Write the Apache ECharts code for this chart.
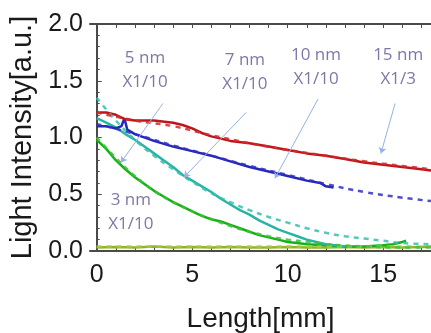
<!DOCTYPE html>
<html>
<head>
<meta charset="utf-8">
<script src="https://cdn.jsdelivr.net/npm/echarts@6/dist/echarts.min.js"></script>
<style>
  html, body { margin: 0; padding: 0; background: #fff; }
  #chart { width: 431px; height: 333px; }
</style>
</head>
<body>
<div id="chart"></div>
<script>
// measured profiles [length mm, intensity a.u.]
const red15nm = [[0,1.22],[0.5,1.22],[1,1.2],[1.5,1.16],[2,1.15],[3,1.15],[4,1.13],[4.5,1.11],[5,1.08],[5.5,1.04],[6,1.01],[7,0.97],[8,0.95],[9,0.92],[10,0.89],[11,0.86],[12,0.84],[13,0.81],[14,0.78],[15,0.76],[16,0.74],[17,0.72],[17.5,0.71]];
const red15nmFit = [[0,1.22],[2,1.15],[4,1.1],[6,1.02],[8,0.95],[10,0.89],[12,0.84],[14,0.79],[16,0.75],[17.5,0.72]];

const blue10nm = [[0,1.1],[0.5,1.1],[1,1.08],[1.3,1.1],[1.45,1.17],[1.6,1.07],[2,1.03],[3,0.97],[4,0.92],[5,0.88],[6,0.84],[7,0.79],[8,0.74],[9,0.7],[10,0.66],[11,0.62],[11.7,0.6],[12,0.57],[12.4,0.56]];
const blue10nmFit = [[0,1.12],[2,1.03],[4,0.93],[6,0.84],[8,0.75],[10,0.67],[12,0.59],[14,0.52],[16,0.47],[17.5,0.44]];

const teal7nm = [[0,1.17],[0.5,1.13],[1,1.09],[1.5,1.03],[2,0.98],[2.5,0.92],[3,0.86],[3.5,0.8],[4,0.74],[4.5,0.67],[5,0.62],[5.5,0.57],[6,0.52],[6.5,0.46],[7,0.41],[7.5,0.36],[8,0.32],[8.5,0.27],[9,0.23],[9.5,0.19],[10,0.16],[10.5,0.13],[11,0.1],[11.5,0.08],[12,0.06],[12.5,0.05],[13,0.04]];
const teal7nmFit = [[0,1.35],[1,1.15],[2,0.98],[3,0.84],[4,0.72],[5,0.61],[6,0.51],[7,0.43],[8,0.36],[9,0.3],[10,0.25],[11,0.2],[12,0.16],[13,0.13],[14,0.11],[15,0.09],[16,0.07],[17.5,0.06]];

const green5nm = [[0,0.98],[0.5,0.9],[1,0.8],[1.5,0.72],[2,0.65],[2.5,0.59],[3,0.53],[3.5,0.48],[4,0.43],[4.5,0.39],[5,0.35],[5.5,0.31],[6,0.28],[6.5,0.26],[7,0.23],[7.5,0.2],[8,0.17],[8.5,0.14],[9,0.12],[9.5,0.1],[10,0.08],[10.5,0.07],[11,0.06],[12,0.05],[13,0.04],[14,0.04],[15,0.05],[15.5,0.06],[16,0.08],[16.2,0.09]];
const green5nmFit = [[0,1.0],[1,0.82],[2,0.66],[3,0.53],[4,0.43],[5,0.35],[6,0.28],[7,0.22],[8,0.17],[9,0.13],[10,0.1],[11,0.08],[12,0.06],[14,0.04],[16,0.03],[17.5,0.03]];

const olive3nm = [[0,0.03],[1,0.035],[2,0.03],[3,0.04],[4,0.03],[5,0.035],[6,0.03],[7,0.035],[8,0.03],[9,0.03],[10,0.035],[11,0.03],[12,0.03],[13,0.035],[14,0.03],[15,0.035],[16,0.03],[17,0.035],[17.5,0.04]];
const olive3nmFit = [[0,0.04],[17.5,0.04]];

// annotations
const noteText = ["5 nm\nX1/10", "7 nm\nX1/10", "10 nm\nX1/10", "15 nm\nX1/3", "3 nm\nX1/10"];
const notePos = [[2.53,1.59],[7.76,1.58],[11.48,1.62],[15.78,1.62],[1.79,0.34]];
const arrowFrom = [[3.47,1.3],[7.82,1.22],[11.59,1.34],[15.62,1.3]];
const arrowTo = [[1.27,0.78],[4.57,0.65],[9.33,0.64],[14.88,0.86]];

const xLabels = [0, 5, 10, 15];
const xTicks = [0,1,2,3,4,5,6,7,8,9,10,11,12,13,14,15,16,17];

const FRAME = "#4a4a4a";
const FONT = "Liberation Sans";

function measured(data, color, z) {
  return {
    type: "line",
    data: data,
    showSymbol: false,
    z: z,
    lineStyle: { color: color, width: 2.5 },
    itemStyle: { color: color },
  };
}

function fitted(data, color, z) {
  return {
    type: "line",
    data: data,
    smooth: 0.4,
    showSymbol: false,
    z: z,
    lineStyle: { color: color, width: 2.5, type: [5, 5], opacity: 0.85 },
    itemStyle: { color: color },
  };
}

function xAxisBase(position, extra) {
  return Object.assign({
    type: "value",
    position: position,
    min: -0.35,
    max: 17.5,
    splitLine: { show: false },
    axisLine: { show: true, onZero: false, lineStyle: { color: FRAME, width: 2 } },
    axisTick: { show: true, inside: true, length: 4, customValues: xTicks, lineStyle: { color: FRAME } },
    axisLabel: { show: false },
  }, extra);
}

const chart = echarts.init(document.getElementById("chart"), null, { renderer: "canvas" });

chart.setOption({
  animation: false,
  backgroundColor: "#fff",
  grid: { left: 90, right: 0, top: 24, bottom: 82, containLabel: false, outerBoundsMode: "none" },
  xAxis: [
    xAxisBase("bottom", {
      name: "Length[mm]",
      nameLocation: "middle",
      nameGap: 54,
      nameTextStyle: { fontFamily: FONT, fontSize: 28, color: "#1a1a1a" },
      axisLabel: {
        show: true,
        customValues: xLabels,
        margin: 12,
        fontFamily: FONT,
        fontSize: 25,
        color: "#1a1a1a",
      },
    }),
    xAxisBase("top", {}),
  ],
  yAxis: {
    type: "value",
    min: 0,
    max: 2,
    interval: 0.5,
    name: "Light Intensity[a.u.]",
    nameLocation: "middle",
    nameGap: 50,
    nameTextStyle: { fontFamily: FONT, fontSize: 29, color: "#1a1a1a" },
    splitLine: { show: false },
    axisLine: { show: true, lineStyle: { color: FRAME, width: 2 } },
    axisTick: { show: true, inside: true, length: 5, lineStyle: { color: FRAME } },
    minorTick: { show: true, splitNumber: 5, length: 3, lineStyle: { color: FRAME } },
    axisLabel: {
      margin: 7,
      fontFamily: FONT,
      fontSize: 25,
      color: "#1a1a1a",
      formatter: (value) => value.toFixed(1),
    },
  },
  series: [
    measured(olive3nm, "#8fb521", 2),
    measured(green5nm, "#17b017", 3),
    measured(teal7nm, "#28b5a3", 3),
    measured(blue10nm, "#2626b8", 3),
    measured(red15nm, "#c0141a", 3),
    fitted(olive3nmFit, "#a8c84a", 4),
    fitted(green5nmFit, "#3cc03c", 4),
    fitted(teal7nmFit, "#35bfae", 4),
    fitted(blue10nmFit, "#3030c4", 4),
    fitted(red15nmFit, "#d02a2a", 4),
    {
      type: "lines",
      coordinateSystem: "cartesian2d",
      z: 6,
      symbol: ["none", "arrow"],
      symbolSize: 6,
      lineStyle: { color: "#93b4e6", width: 1, opacity: 1 },
      data: arrowFrom.map((from, i) => ({ coords: [from, arrowTo[i]] })),
    },
    {
      type: "scatter",
      z: 7,
      symbolSize: 1,
      itemStyle: { color: "transparent" },
      data: notePos.map((p, i) => [p[0], p[1], noteText[i]]),
      labelLayout: { hideOverlap: false },
      label: {
        show: true,
        position: "inside",
        formatter: (p) => p.data[2],
        fontFamily: "Open Sans",
        fontSize: 17,
        lineHeight: 24,
        color: "#5c5590",
      },
    },
  ],
});
</script>
</body>
</html>
